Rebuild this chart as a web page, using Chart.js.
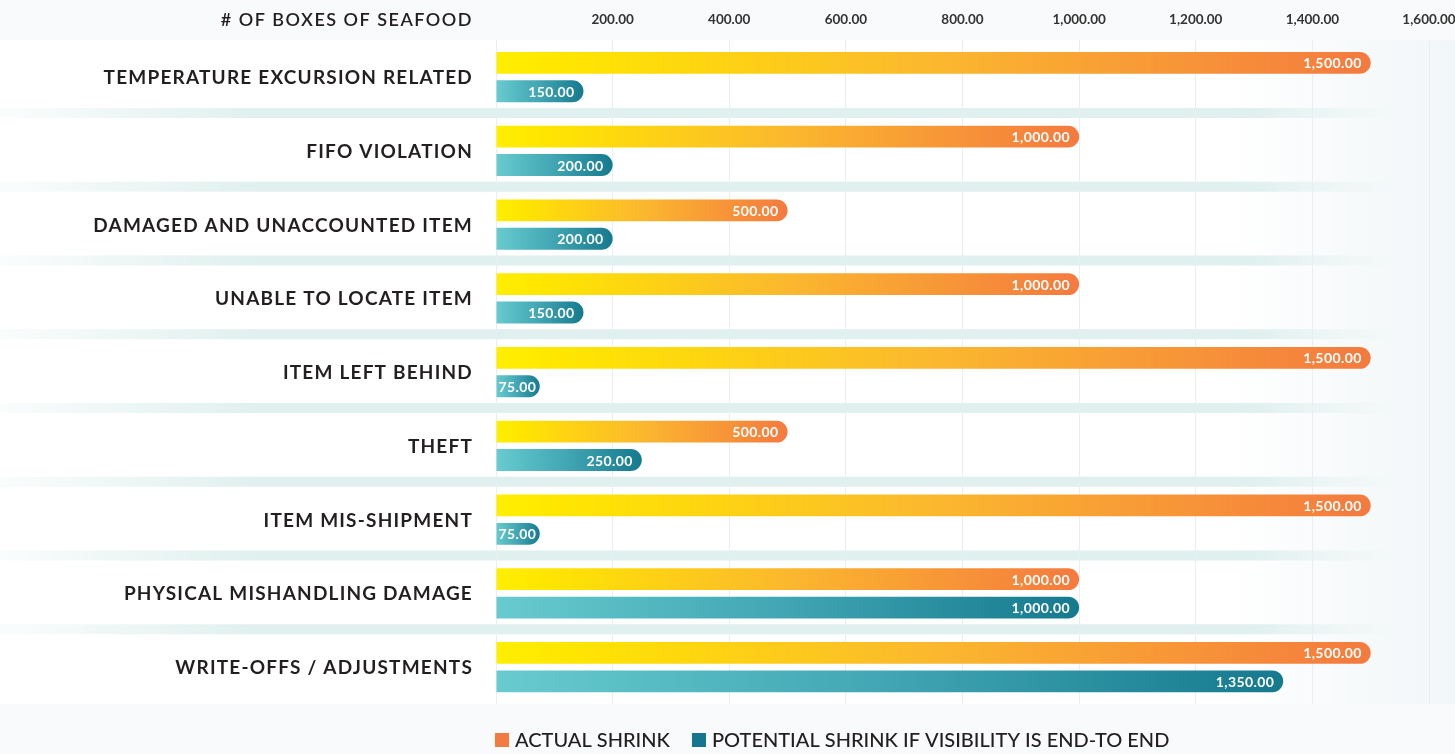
<!DOCTYPE html>
<html>
<head>
<meta charset="utf-8">
<title>Seafood shrink</title>
<script src="https://cdn.jsdelivr.net/npm/chart.js@4.4.1/dist/chart.umd.min.js"></script>
<style>
  html, body { margin: 0; padding: 0; background: #f8fafb; }
  canvas { display: block; }
</style>
</head>
<body>
<canvas id="shrinkChart" width="1455" height="754"></canvas>
<script>
const categories = [
  "TEMPERATURE EXCURSION RELATED",
  "FIFO VIOLATION",
  "DAMAGED AND UNACCOUNTED ITEM",
  "UNABLE TO LOCATE ITEM",
  "ITEM LEFT BEHIND",
  "THEFT",
  "ITEM MIS-SHIPMENT",
  "PHYSICAL MISHANDLING DAMAGE",
  "WRITE-OFFS / ADJUSTMENTS"
];
const actualShrink = [1500, 1000, 500, 1000, 1500, 500, 1500, 1000, 1500];
const potentialShrink = [150, 200, 200, 150, 75, 250, 75, 1000, 1350];
const seriesNames = ["ACTUAL SHRINK", "POTENTIAL SHRINK IF VISIBILITY IS END-TO END"];
const axisTitle = "# OF BOXES OF SEAFOOD";
const xMin = 0, xMax = 1600, xStep = 200;

const ORANGE = ["#FFEF00", "#FFE600", "#FBB82E", "#F47A3F"];
const TEAL = ["#67CBCF", "#45A9B6", "#157A8E"];
const TEXT = "#231F20";

const fmt = v => v.toLocaleString("en-US", { minimumFractionDigits: 2, maximumFractionDigits: 2 });

// gradient runs along each bar, from 0 to the bar's value
function barFill(stops) {
  return (c) => {
    const chart = c.chart;
    if (!chart.chartArea || c.type !== "data") return stops[stops.length - 1];
    const x = chart.scales.x;
    const x0 = x.getPixelForValue(0);
    const x1 = x.getPixelForValue(c.raw);
    const g = chart.ctx.createLinearGradient(x0, 0, Math.max(x1, x0 + 1), 0);
    const pos = stops.length === 4 ? [0, 0.08, 0.5, 1] : [0, 0.45, 1];
    stops.forEach((s, i) => g.addColorStop(pos[i], s));
    return g;
  };
}

const backdrop = {
  id: "backdrop",
  beforeDraw(chart) {
    const { ctx, width, chartArea: a } = chart;
    const y = chart.scales.y;
    ctx.save();
    ctx.fillStyle = "#f8fafb";
    ctx.fillRect(0, 0, width, chart.height);

    const body = ctx.createLinearGradient(0, 0, width, 0);
    body.addColorStop(0, "#ffffff");
    body.addColorStop(0.84, "#ffffff");
    body.addColorStop(1, "#f1f6f8");
    ctx.fillStyle = body;
    ctx.fillRect(0, a.top, width, a.bottom - a.top);

    // light teal separators between categories
    const band = ctx.createLinearGradient(0, 0, width, 0);
    band.addColorStop(0, "rgba(223,240,238,0.15)");
    band.addColorStop(0.18, "rgba(223,240,238,1)");
    band.addColorStop(0.86, "rgba(223,240,238,1)");
    band.addColorStop(0.96, "rgba(223,240,238,0)");
    ctx.fillStyle = band;
    for (let i = 0; i < categories.length - 1; i++) {
      const mid = (y.getPixelForValue(i) + y.getPixelForValue(i + 1)) / 2;
      ctx.fillRect(0, mid - 6, width, 10);
    }
    ctx.restore();
  }
};

const labels = {
  id: "labels",
  afterDraw(chart) {
    const { ctx, chartArea: a } = chart;
    const y = chart.scales.y;
    const right = a.left - 23;
    ctx.save();
    ctx.textAlign = "right";
    ctx.textBaseline = "middle";
    ctx.fillStyle = TEXT;

    ctx.letterSpacing = "1.2px";
    ctx.font = "700 19px Lato";
    categories.forEach((c, i) => ctx.fillText(c, right, y.getPixelForValue(i) + 1));

    ctx.letterSpacing = "1.5px";
    ctx.font = "600 18px Lato";
    ctx.fillText(axisTitle, right, 20);

    // legend under the plot, starting at the plot's left edge
    ctx.letterSpacing = "0px";
    ctx.textAlign = "left";
    ctx.font = "500 20px Lato";
    let x = a.left - 1;
    const ly = a.bottom + 36;
    [["#F47A3F", seriesNames[0]], ["#15778F", seriesNames[1]]].forEach(([col, name]) => {
      ctx.fillStyle = col;
      ctx.fillRect(x, ly - 7, 14, 14);
      ctx.fillStyle = TEXT;
      ctx.fillText(name, x + 20, ly + 1);
      x += 20 + ctx.measureText(name).width + 22;
    });
    ctx.restore();
  }
};

const valueLabels = {
  id: "valueLabels",
  afterDatasetsDraw(chart) {
    const { ctx } = chart;
    ctx.save();
    ctx.font = "700 14px Lato";
    ctx.letterSpacing = "0.4px";
    ctx.fillStyle = "#ffffff";
    ctx.textAlign = "right";
    ctx.textBaseline = "middle";
    chart.data.datasets.forEach((ds, i) => {
      chart.getDatasetMeta(i).data.forEach((bar, j) => {
        const txt = fmt(ds.data[j]);
        const w = ctx.measureText(txt).width;
        const xr = Math.max(bar.x - 9, bar.base + w + 2);
        ctx.fillText(txt, xr, bar.y + 1);
      });
    });
    ctx.restore();
  }
};

new Chart(document.getElementById("shrinkChart"), {
  type: "bar",
  data: {
    labels: categories,
    datasets: [
      {
        label: seriesNames[0],
        data: actualShrink,
        backgroundColor: barFill(ORANGE),
        borderRadius: 11,
        borderSkipped: "start",
        categoryPercentage: 0.77,
        barPercentage: 0.77
      },
      {
        label: seriesNames[1],
        data: potentialShrink,
        backgroundColor: barFill(TEAL),
        borderRadius: 11,
        borderSkipped: "start",
        categoryPercentage: 0.77,
        barPercentage: 0.77
      }
    ]
  },
  options: {
    indexAxis: "y",
    responsive: false,
    devicePixelRatio: 1,
    animation: false,
    layout: { padding: { top: 0, right: 0, bottom: 50, left: 0 } },
    plugins: {
      legend: { display: false },
      tooltip: { enabled: false }
    },
    scales: {
      x: {
        position: "top",
        min: xMin,
        max: xMax,
        ticks: {
          stepSize: xStep,
          padding: 12,
          color: "#333333",
          font: { family: "Lato", size: 13.5, weight: "700" },
          callback: v => (v === 0 ? "" : fmt(v))
        },
        grid: { color: "#E9EDF5", lineWidth: 1, drawTicks: false },
        border: { display: false },
        afterFit: s => { s.paddingRight = 26; s.paddingLeft = 0; }
      },
      y: {
        ticks: { display: false },
        grid: { display: false },
        border: { display: false },
        afterFit: s => { s.width = 496; }
      }
    }
  },
  plugins: [backdrop, valueLabels, labels]
});
</script>
</body>
</html>
